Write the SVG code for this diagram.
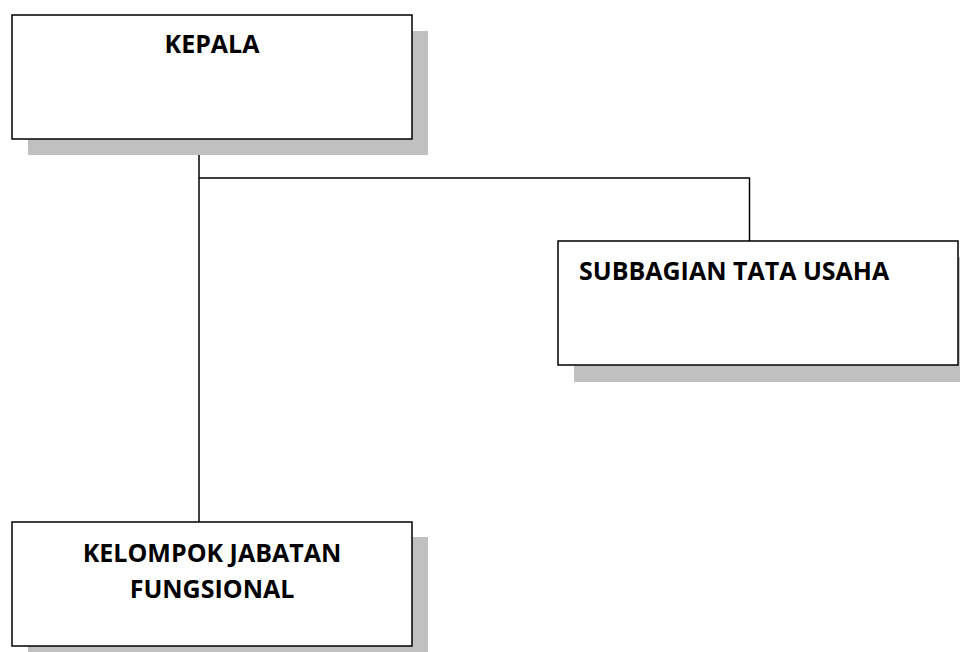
<svg xmlns="http://www.w3.org/2000/svg" width="960" height="652" viewBox="0 0 960 652">
<style>
.shadow{fill:#c0c0c0;stroke:none}
.box{fill:#ffffff;stroke:#000000;stroke-width:1.5}
.lbl{font-family:"Open Sans","Liberation Sans",sans-serif;font-weight:700;font-size:25px;fill:#000000}
.conn{fill:none;stroke:#000000;stroke-width:1.5}
</style>
<rect width="960" height="652" fill="#ffffff"/>
<g id="connectors">
<path class="conn" d="M199 139 V522"/>
<path class="conn" d="M199 178 H749.5 V241"/>
</g>
<g id="kepala">
<rect class="shadow" x="28" y="31" width="400" height="124"/>
<rect class="box" x="12" y="15" width="400" height="124"/>
<text class="lbl" x="212" y="53" text-anchor="middle">KEPALA</text>
</g>
<g id="subbagian">
<rect class="shadow" x="574" y="257" width="400" height="125"/>
<rect class="box" x="558" y="241" width="400" height="124"/>
<text class="lbl" x="579" y="280">SUBBAGIAN TATA USAHA</text>
</g>
<g id="kelompok">
<rect class="shadow" x="28" y="537" width="400" height="130"/>
<rect class="box" x="12" y="522" width="400" height="124"/>
<text class="lbl" x="212" y="562" text-anchor="middle">KELOMPOK JABATAN</text>
<text class="lbl" x="212" y="598" text-anchor="middle">FUNGSIONAL</text>
</g>
</svg>
